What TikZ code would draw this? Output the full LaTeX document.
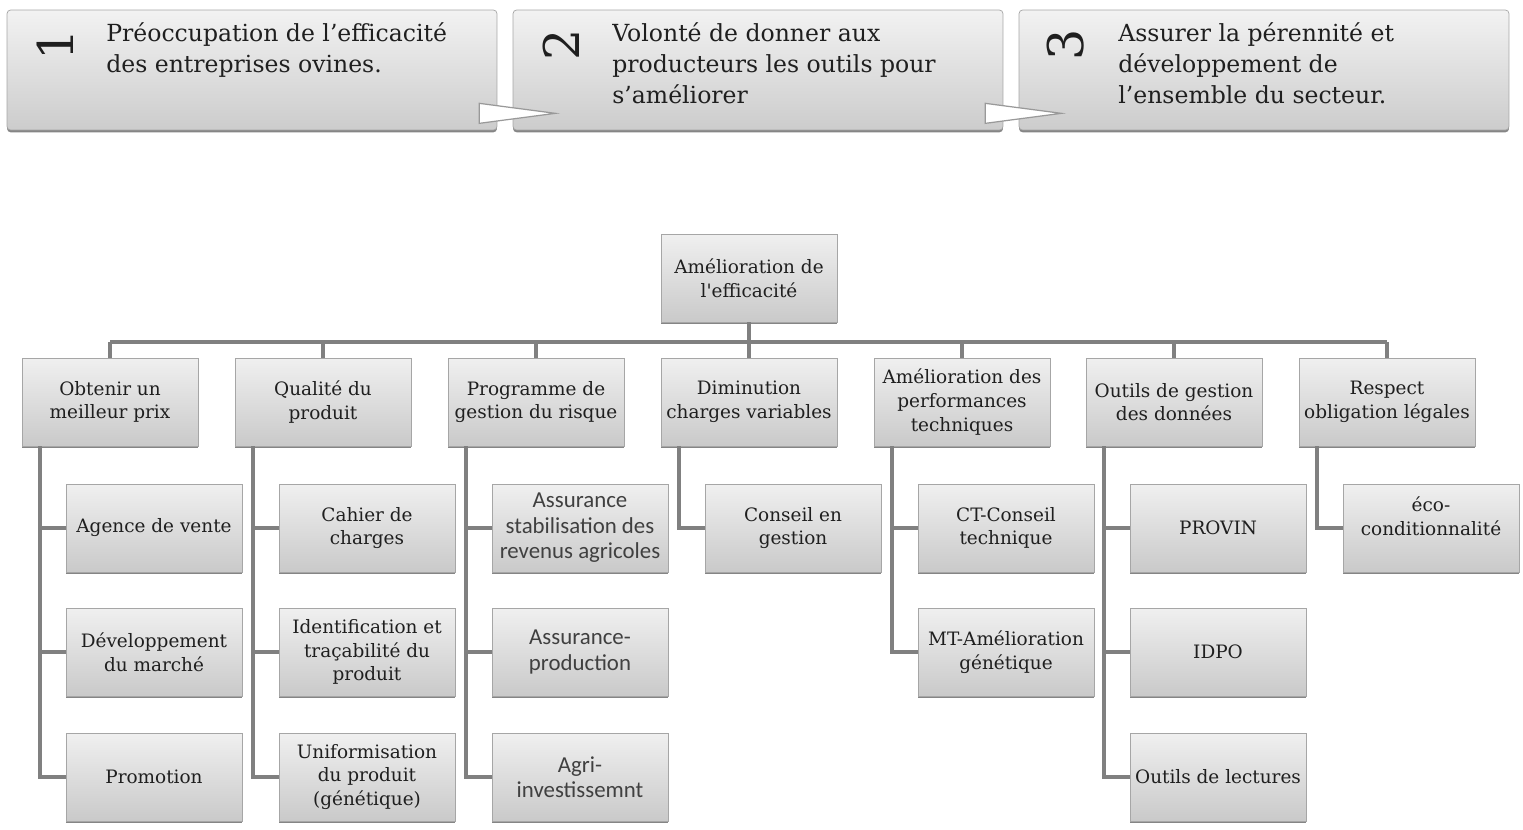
\documentclass[tikz,border=0pt]{standalone}
\usepackage{fontspec}
\setmainfont{DejaVu Serif}
\newfontfamily\sansfont{Carlito}
\usetikzlibrary{shadows}

\begin{document}
\begin{tikzpicture}[x=0.02cm,y=-0.02cm,
    topbox/.style={draw=black!35,rounded corners=2pt,top color=black!5,bottom color=black!20,
        minimum width=9.8cm,minimum height=2.4cm,
        drop shadow={shadow xshift=0pt,shadow yshift=-1.3pt,fill=black!60,opacity=.8}},
    toptext/.style={anchor=north west,align=left,inner sep=0pt,text=black!88,
        font=\fontsize{13.4}{17.6}\selectfont},
    num/.style={rotate=90,inner sep=0pt,text=black!88,font=\fontsize{28}{28}\selectfont},
    box/.style={draw=black!35,top color=black!6,bottom color=black!21,
        minimum width=3.52cm,minimum height=1.76cm,inner sep=1pt,align=center,
        text=black!88,font=\fontsize{10.5}{13.5}\selectfont,
        drop shadow={shadow xshift=0pt,shadow yshift=-1.3pt,fill=black!60,opacity=.8}},
    sbox/.style={box,text=black!75,font=\sansfont\fontsize{13}{14.5}\selectfont},
    link/.style={draw=black!50,line width=2.2pt},
    wedge/.style={draw=black!40,fill=white,line width=0.7pt,line join=miter}]
\useasboundingbox (0,0) rectangle (1523,829);

% bandeau du haut
\node[topbox] (s1) at (252,70) {};
\node[topbox] (s2) at (758,70) {};
\node[topbox] (s3) at (1264,70) {};
\node[num] (n1) at (55,45) {1};
\node[num] (n2) at (561,45) {2};
\node[num] (n3) at (1066,45) {3};
\node[toptext] (t1) at (106,22) {Préoccupation de l’efficacité\\des entreprises ovines.};
\node[toptext] (t2) at (612,22) {Volonté de donner aux\\producteurs les outils pour\\s’améliorer};
\node[toptext] (t3) at (1118,22) {Assurer la pérennité et\\développement de\\l’ensemble du secteur.};
\draw[wedge] ([shift={(-18,-27)}]s1.south east) -- ([shift={(58,-17)}]s1.south east)
    -- ([shift={(-18,-7)}]s1.south east) -- cycle;
\draw[wedge] ([shift={(-18,-27)}]s2.south east) -- ([shift={(58,-17)}]s2.south east)
    -- ([shift={(-18,-7)}]s2.south east) -- cycle;

% organigramme
\node[box] (root) at (749,278) {Amélioration de\\l\textquotesingle efficacité};
\coordinate (bus) at (749,342);

\node[box] (p1) at (110,402) {Obtenir un\\meilleur prix};
\node[box] (p2) at (323,402) {Qualité du\\produit};
\node[box] (p3) at (536,402) {Programme de\\gestion du risque};
\node[box] (p4) at (749,402) {Diminution\\charges variables};
\node[box] (p5) at (962,402) {Amélioration des\\performances\\techniques};
\node[box] (p6) at (1174,402) {Outils de gestion\\des données};
\node[box] (p7) at (1387,402) {Respect\\obligation légales};

\node[box] (c1a) at (154,528) {Agence de vente};
\node[box] (c1b) at (154,652) {Développement\\du marché};
\node[box] (c1c) at (154,777) {Promotion};
\node[box] (c2a) at (367,528) {Cahier de\\charges};
\node[box] (c2b) at (367,652) {Identification et\\traçabilité du\\produit};
\node[box] (c2c) at (367,777) {Uniformisation\\du produit\\(génétique)};
\node[sbox] (c3a) at (580,528) {Assurance\\stabilisation des\\revenus agricoles};
\node[sbox] (c3b) at (580,652) {Assurance-\\production};
\node[sbox] (c3c) at (580,777) {Agri-\\investissemnt};
\node[box] (c4a) at (793,528) {Conseil en\\gestion};
\node[box] (c5a) at (1006,528) {CT-Conseil\\technique};
\node[box] (c5b) at (1006,652) {MT-Amélioration\\génétique};
\node[box] (c6a) at (1218,528) {PROVIN};
\node[box] (c6b) at (1218,652) {IDPO};
\node[box] (c6c) at (1218,777) {Outils de lectures};
\node[box] (c7a) at (1431,528) {éco-\\conditionnalité\\~};

\draw[link] (root) -- (bus);
\draw[link] (bus -| p1.north) -- (bus -| p7.north);
\foreach \i in {1,...,7}
    \draw[link] (bus -| p\i.north) -- (p\i.north);

\foreach \c in {a,b,c} {
    \draw[link] ([xshift=0.36cm]p1.south west) |- (c1\c.west);
    \draw[link] ([xshift=0.36cm]p2.south west) |- (c2\c.west);
    \draw[link] ([xshift=0.36cm]p3.south west) |- (c3\c.west);
    \draw[link] ([xshift=0.36cm]p6.south west) |- (c6\c.west);
}
\draw[link] ([xshift=0.36cm]p4.south west) |- (c4a.west);
\draw[link] ([xshift=0.36cm]p5.south west) |- (c5a.west);
\draw[link] ([xshift=0.36cm]p5.south west) |- (c5b.west);
\draw[link] ([xshift=0.36cm]p7.south west) |- (c7a.west);
\end{tikzpicture}
\end{document}
